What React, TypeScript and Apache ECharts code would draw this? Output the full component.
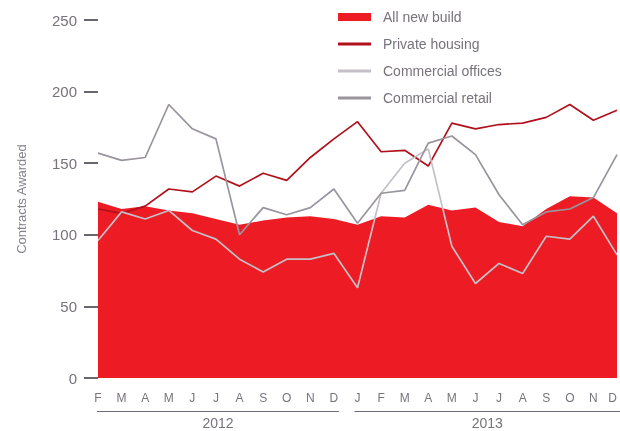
import React, { useEffect, useRef } from "react";
import * as echarts from "echarts";

const months = ["F","M","A","M","J","J","A","S","O","N","D","J","F","M","A","M","J","J","A","S","O","N","D"];
const years = ["2012", "2013"];
const yearStartIdx = [0, 11];
const yearEndIdx = [10, 22];
const allNewBuild = [123,118,120,117,115,111,107,110,112,113,111,107,113,112,121,117,119,109,106,118,127,126,115];
const privateHousing = [118,115,120,132,130,141,134,143,138,154,167,179,158,159,148,178,174,177,178,182,191,180,187];
const commercialOffices = [96,116,111,117,103,97,83,74,83,83,87,63,129,150,160,92,66,80,73,99,97,113,86];
const commercialRetail = [157,152,154,191,174,167,100,119,114,119,132,108,129,131,164,169,156,128,107,116,118,126,156];
const yTicks = { min: 0, max: 250, interval: 50 };

const FONT = "'Liberation Sans', Arial, Helvetica, sans-serif";
const TEXT = "#77727c";

export default function App() {
  const ref = useRef<HTMLDivElement>(null);
  useEffect(() => {
    if (!ref.current) return;
    const chart = echarts.init(ref.current, undefined, { renderer: "svg" });
    const cats = months.map((m, i) => m + "_" + i);
    chart.setOption({
      animation: false,
      textStyle: { fontFamily: FONT },
      grid: { left: 98, right: 0, top: 20, bottom: 53 },
      legend: [
        {
          orient: "vertical",
          left: 338,
          top: 10,
          icon: "rect",
          itemWidth: 33,
          itemHeight: 8,
          data: ["All new build"],
          textStyle: { fontSize: 14, color: TEXT, fontFamily: FONT, padding: [0, 0, 0, 7], lineHeight: 14 },
          selectedMode: false,
          padding: 0,
        },
        {
          orient: "vertical",
          left: 338,
          top: 37,
          icon: "rect",
          itemWidth: 33,
          itemHeight: 3,
          itemGap: 13,
          data: ["Private housing", "Commercial offices", "Commercial retail"],
          textStyle: { fontSize: 14, color: TEXT, fontFamily: FONT, padding: [0, 0, 0, 7], lineHeight: 14 },
          selectedMode: false,
          padding: 0,
        },
      ],
      xAxis: {
        type: "category",
        data: cats,
        boundaryGap: false,
        axisLine: { show: false },
        axisTick: { show: false },
        axisLabel: {
          formatter: (v: string) => v.split("_")[0],
          interval: 0,
          margin: 14,
          fontSize: 12,
          color: TEXT,
          fontFamily: FONT,
          showMaxLabel: true,
          showMinLabel: true,
          alignMaxLabel: "right",
        },
        splitLine: { show: false },
      },
      yAxis: {
        type: "value",
        min: yTicks.min,
        max: yTicks.max,
        interval: yTicks.interval,
        name: "Contracts Awarded",
        nameLocation: "middle",
        nameGap: 70,
        nameTextStyle: { fontSize: 13, color: "#85808a", fontFamily: FONT },
        axisLine: { show: false },
        axisTick: { show: true, length: 14, lineStyle: { color: "#6a6670", width: 2 } },
        axisLabel: { margin: 21, fontSize: 15, color: TEXT, fontFamily: FONT },
        splitLine: { show: false },
      },
      series: [
        {
          name: "All new build",
          type: "line",
          data: allNewBuild,
          symbol: "none",
          itemStyle: { color: "#ED1C24" },
          lineStyle: { width: 0, color: "#ED1C24" },
          areaStyle: { color: "#ED1C24", opacity: 1 },
          z: 1,
        },
        {
          name: "Private housing",
          type: "line",
          data: privateHousing,
          symbol: "none",
          itemStyle: { color: "#B0111A" },
          lineStyle: { width: 1.7, color: "#B0111A" },
          z: 3,
        },
        {
          name: "Commercial offices",
          type: "line",
          data: commercialOffices,
          symbol: "none",
          itemStyle: { color: "#C3C0C7" },
          lineStyle: { width: 1.7, color: "#C3C0C7" },
          z: 3,
        },
        {
          name: "Commercial retail",
          type: "line",
          data: commercialRetail,
          symbol: "none",
          itemStyle: { color: "#99949D" },
          lineStyle: { width: 1.7, color: "#99949D" },
          z: 3,
        },
      ],
    });

    const px = (i: number) => (chart.convertToPixel({ xAxisIndex: 0 }, cats[i]) as unknown) as number;
    const graphics: any[] = [];
    years.forEach((yr, k) => {
      const x0 = k === 0 ? px(yearStartIdx[k]) - 1 : px(yearStartIdx[k]) - 3;
      const x1 = k === 0 ? px(yearEndIdx[k]) + 5 : 620;
      graphics.push({
        type: "line",
        shape: { x1: x0, y1: 411.5, x2: x1, y2: 411.5 },
        style: { stroke: "#6f6b74", lineWidth: 1.2 },
        silent: true,
      });
      graphics.push({
        type: "text",
        x: (x0 + x1) / 2,
        y: 423,
        style: {
          text: yr,
          fontSize: 14,
          fill: TEXT,
          fontFamily: FONT,
          align: "center",
          verticalAlign: "middle",
        },
        silent: true,
      });
    });
    chart.setOption({ graphic: graphics });

    return () => chart.dispose();
  }, []);
  return <div ref={ref} style={{ position: "fixed", left: 0, top: 0, width: 620, height: 431 }} />;
}
